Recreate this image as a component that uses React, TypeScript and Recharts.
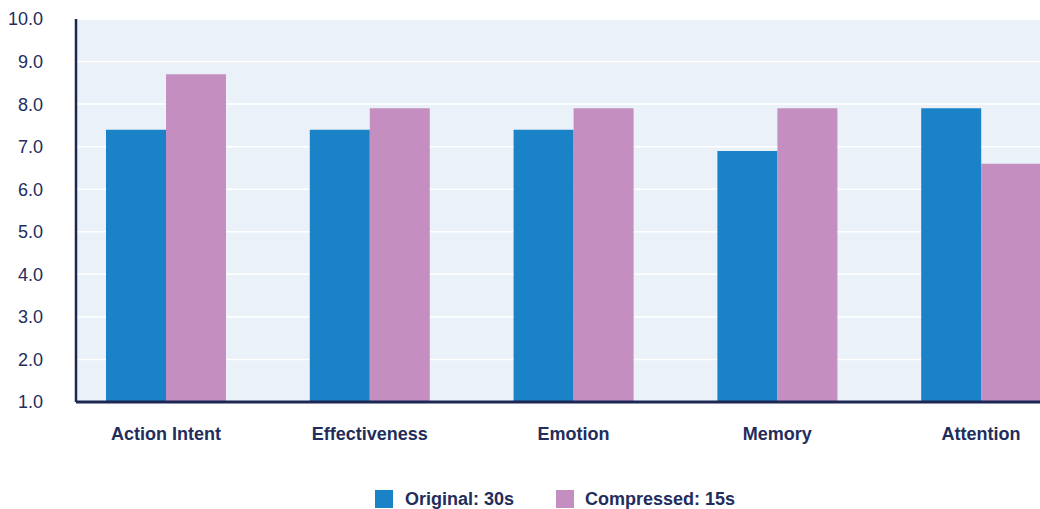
import React from "react";
import { BarChart, Bar, XAxis, YAxis, CartesianGrid, Legend } from "recharts";

const categories = ["Action Intent", "Effectiveness", "Emotion", "Memory", "Attention"];
const original30s = [7.4, 7.4, 7.4, 6.9, 7.9];
const compressed15s = [8.7, 7.9, 7.9, 7.9, 6.6];
const yTicks = [1, 2, 3, 4, 5, 6, 7, 8, 9, 10];
const seriesNames = ["Original: 30s", "Compressed: 15s"];

const BLUE = "#1a82c6";
const PINK = "#c48ec0";
const NAVY = "#232d5c";
const AXIS = "#1c2753";
const FONT = "'Liberation Sans', Arial, Helvetica, sans-serif";

const data = categories.map((c, i) => ({
  name: c,
  original: original30s[i],
  compressed: compressed15s[i],
}));

const LegendContent = () => (
  <div
    style={{
      height: 30,
      display: "flex",
      alignItems: "flex-end",
      paddingLeft: 375,
      fontFamily: FONT,
      fontSize: 18,
      fontWeight: 600,
      color: NAVY,
      boxSizing: "border-box",
      paddingBottom: 1,
    }}
  >
    {[BLUE, PINK].map((col, i) => (
      <div key={i} style={{ display: "flex", alignItems: "center", marginRight: i === 0 ? 42 : 0 }}>
        <div style={{ width: 18, height: 18, background: col, marginRight: i === 0 ? 12 : 11 }} />
        <span style={{ lineHeight: "18px" }}>{seriesNames[i]}</span>
      </div>
    ))}
  </div>
);

export default function App() {
  return (
    <div style={{ position: "absolute", left: 0, top: 0 }}>
      <BarChart
        width={1040}
        height={509}
        data={data}
        margin={{ top: 19, right: 0, bottom: 0, left: 0 }}
        barGap={0}
        barSize={60}
      >
        <CartesianGrid fill="#ebf1f9" vertical={false} stroke="#ffffff" strokeWidth={1.5} />
        <XAxis
          dataKey="name"
          height={77}
          padding={{ left: -12, right: -43 }}
          tickLine={false}
          tickSize={0}
          tickMargin={25}
          axisLine={{ stroke: AXIS, strokeWidth: 3 }}
          tick={{ fill: NAVY, fontSize: 18, fontWeight: 600, fontFamily: FONT }}
          interval={0}
        />
        <YAxis
          width={76}
          domain={[1, 10]}
          ticks={yTicks}
          allowDataOverflow
          tickFormatter={(v: number) => v.toFixed(1)}
          tickLine={false}
          tickSize={0}
          tickMargin={33}
          axisLine={{ stroke: AXIS, strokeWidth: 2.5 }}
          tick={{ fill: NAVY, fontSize: 18, fontFamily: FONT }}
        />
        <Legend verticalAlign="bottom" content={<LegendContent />} wrapperStyle={{ left: 0, width: 1040 }} />
        <Bar dataKey="original" name={seriesNames[0]} fill={BLUE} isAnimationActive={false} />
        <Bar dataKey="compressed" name={seriesNames[1]} fill={PINK} isAnimationActive={false} />
      </BarChart>
    </div>
  );
}
